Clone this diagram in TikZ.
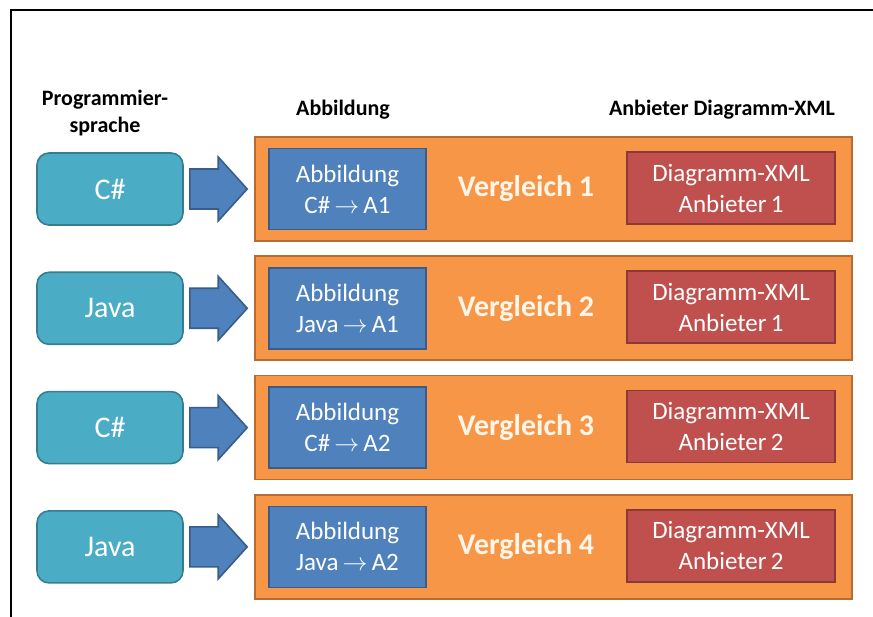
\documentclass[tikz,border=0pt]{standalone}
\usepackage{fontspec}
\setmainfont{Carlito}
\usetikzlibrary{calc}
\definecolor{langfill}{HTML}{4BACC6}
\definecolor{langline}{HTML}{357D91}
\definecolor{mapfill}{HTML}{4F81BD}
\definecolor{mapline}{HTML}{385D8A}
\definecolor{cmpfill}{HTML}{F79646}
\definecolor{cmpline}{HTML}{B66D31}
\definecolor{xmlfill}{HTML}{C0504D}
\definecolor{xmlline}{HTML}{8C3836}
\definecolor{vgtext}{HTML}{FFF5E8}
\newcommand\csh{C\#}
\begin{document}
\begin{tikzpicture}[x=1pt,y=-1pt,
  hdr/.style={font=\fontsize{22}{27}\selectfont\bfseries, text=black, align=center},
  langbox/.style={draw=langline, fill=langfill, line width=1.6pt, rounded corners=12pt,
    minimum width=146pt, minimum height=72pt, text=white, font=\fontsize{30}{34}\selectfont},
  cmpbox/.style={draw=cmpline, fill=cmpfill, line width=1.6pt,
    minimum width=597pt, minimum height=104pt},
  mapbox/.style={draw=mapline, fill=mapfill, line width=1.6pt, align=center,
    minimum width=157pt, minimum height=81pt, text=white,
    font=\fontsize{25}{31}\selectfont},
  xmlbox/.style={draw=xmlline, fill=xmlfill, line width=1.6pt, align=center,
    minimum width=208pt, minimum height=72pt, text=white,
    font=\fontsize{25}{31}\selectfont},
  vglabel/.style={text=vgtext, font=\fontsize{30}{34}\selectfont\bfseries},
  blockarrow/.style={draw=mapline, fill=mapfill, line width=1.6pt, line join=miter}
]
\useasboundingbox (0,0) rectangle (873,617);
% frame lines
\draw[line width=2pt] (10.5,617) -- (10.5,10.5) -- (873,10.5);

% column headings
\node[hdr] (hlang) at (105,113) {Programmier-\\sprache};
\node[hdr] (hmap) at (343,110) {Abbildung};
\node[hdr] (hprov) at (722,110) {Anbieter Diagramm-XML};

% one row per comparison
\foreach \i/\lang/\p in {1/\csh/1, 2/Java/1, 3/\csh/2, 4/Java/2}{
  \pgfmathsetmacro\cy{189+119.3*(\i-1)}
  \node[langbox] (lang\i) at (110,\cy) {\lang};
  \node[cmpbox] (cmp\i) at (553.5,\cy) {};
  \node[mapbox] (map\i) at (347.5,\cy) {Abbildung\\\lang\,$\rightarrow$\,A\p};
  \node[xmlbox] (xml\i) at (731,\cy-1) {Diagramm-XML\\Anbieter\,\p};
  \node[vglabel] (vg\i) at (526,\cy) {Vergleich \i};
  \draw[blockarrow] let \p1=($(lang\i.east)+(6,0)$), \p2=($(cmp\i.west)+(-7,0)$) in
    (\x1,\y1+20) -- (\x2-29,\y1+20) -- (\x2-29,\y1+32) -- (\x2,\y1)
    -- (\x2-29,\y1-32) -- (\x2-29,\y1-20) -- (\x1,\y1-20) -- cycle;
}
\end{tikzpicture}
\end{document}
